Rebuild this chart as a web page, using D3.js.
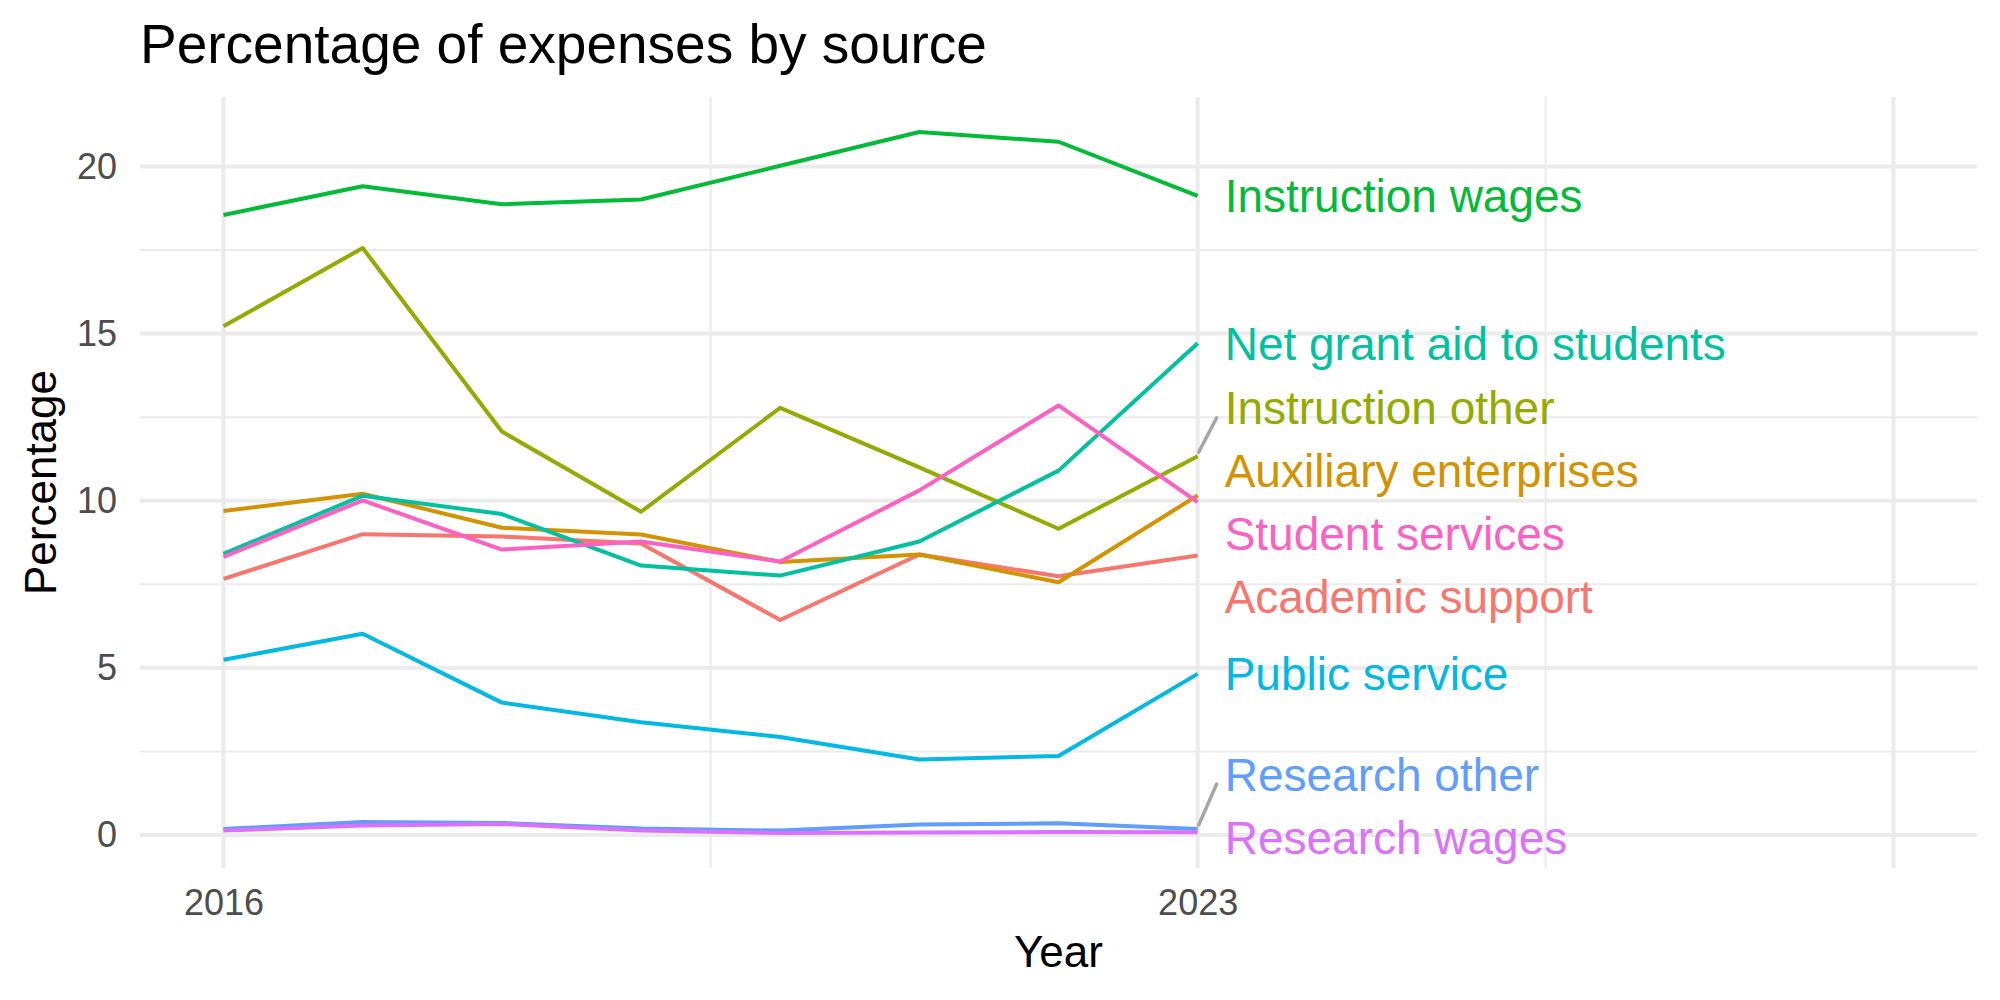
<!DOCTYPE html>
<html>
<head>
<meta charset="utf-8">
<script src="https://cdn.jsdelivr.net/npm/d3@7"></script>
<style>
  body { margin: 0; background: #fff; }
  text { font-family: "Liberation Sans", Arial, Helvetica, sans-serif; }
</style>
</head>
<body>
<script>
// data
var years = [2016, 2017, 2018, 2019, 2020, 2021, 2022, 2023];

var categories = [
    "Academic support",
    "Auxiliary enterprises",
    "Instruction other",
    "Instruction wages",
    "Net grant aid to students",
    "Public service",
    "Research other",
    "Research wages",
    "Student services"
];

var academicSupport = [7.66, 9.00, 8.93, 8.72, 6.43, 8.39, 7.74, 8.36];
var auxiliaryEnterprises = [9.69, 10.21, 9.19, 8.99, 8.17, 8.39, 7.56, 10.16];
var instructionOther = [15.22, 17.56, 12.07, 9.67, 12.78, 11.00, 9.16, 11.33];
var instructionWages = [18.55, 19.41, 18.87, 19.01, 20.02, 21.03, 20.74, 19.12];
var netGrantAid = [8.41, 10.15, 9.60, 8.06, 7.76, 8.78, 10.90, 14.71];
var publicService = [5.24, 6.02, 3.96, 3.37, 2.93, 2.26, 2.36, 4.82];
var researchOther = [0.18, 0.39, 0.36, 0.19, 0.13, 0.31, 0.35, 0.18];
var researchWages = [0.13, 0.28, 0.33, 0.13, 0.06, 0.07, 0.09, 0.08];
var studentServices = [8.32, 10.01, 8.54, 8.78, 8.18, 10.31, 12.85, 9.96];

var seriesValues = [academicSupport, auxiliaryEnterprises, instructionOther, instructionWages,
    netGrantAid, publicService, researchOther, researchWages, studentServices];

// ggplot hue palette
var colors = ["#F8766D", "#D39200", "#93AA00", "#00BA38", "#00C19F",
    "#00B9E3", "#619CFF", "#DB72FB", "#FF61C3"];

var xLimits = [2016, 2028];
var xBreaks = [2016, 2023, 2028];
var xBreakLabels = ["2016", "2023", ""];
var xMinorBreaks = [2019.5, 2025.5];
var yBreaks = [0, 5, 10, 15, 20];
var yMinorBreaks = [2.5, 7.5, 12.5, 17.5];

var svgWidth = 2000;
var svgHeight = 1000;

var margin = {
    top: 97,
    right: 23,
    bottom: 132,
    left: 140
};

var width = svgWidth - margin.left - margin.right;
var height = svgHeight - margin.top - margin.bottom;

var svg = d3.select("body")
    .append("svg")
    .attr("width", svgWidth)
    .attr("height", svgHeight);

var chartGroup = svg.append("g")
    .attr("transform", `translate(${margin.left}, ${margin.top})`);

// build long table
var series = categories.map(function (name, i) {
    return {
        name: name,
        values: years.map(function (yr, j) {
            return { year: yr, value: seriesValues[i][j] };
        })
    };
});

var allValues = d3.merge(seriesValues);
var yExtent = d3.extent(allValues);
var yPad = (yExtent[1] - yExtent[0]) * 0.05;
var xPad = (xLimits[1] - xLimits[0]) * 0.05;

var xLinearScale = d3.scaleLinear()
    .domain([xLimits[0] - xPad, xLimits[1] + xPad])
    .range([0, width]);

var yLinearScale = d3.scaleLinear()
    .domain([yExtent[0] - yPad, yExtent[1] + yPad])
    .range([height, 0]);

var colorScale = d3.scaleOrdinal().domain(categories).range(colors);

// grid lines
var grid = chartGroup.append("g").attr("class", "grid");

grid.selectAll(".ymin")
    .data(yMinorBreaks)
    .enter()
    .append("line")
    .attr("x1", 0).attr("x2", width)
    .attr("y1", d => yLinearScale(d)).attr("y2", d => yLinearScale(d))
    .attr("stroke", "#EBEBEB").attr("stroke-width", 2);

grid.selectAll(".xmin")
    .data(xMinorBreaks)
    .enter()
    .append("line")
    .attr("y1", 0).attr("y2", height)
    .attr("x1", d => xLinearScale(d)).attr("x2", d => xLinearScale(d))
    .attr("stroke", "#EBEBEB").attr("stroke-width", 2);

grid.selectAll(".ymaj")
    .data(yBreaks)
    .enter()
    .append("line")
    .attr("x1", 0).attr("x2", width)
    .attr("y1", d => yLinearScale(d)).attr("y2", d => yLinearScale(d))
    .attr("stroke", "#EBEBEB").attr("stroke-width", 4);

grid.selectAll(".xmaj")
    .data(xBreaks)
    .enter()
    .append("line")
    .attr("y1", 0).attr("y2", height)
    .attr("x1", d => xLinearScale(d)).attr("x2", d => xLinearScale(d))
    .attr("stroke", "#EBEBEB").attr("stroke-width", 4);

// axes
var bottomAxis = d3.axisBottom(xLinearScale)
    .tickValues(xBreaks)
    .tickFormat((d, i) => xBreakLabels[i])
    .tickSize(0)
    .tickPadding(21);

var leftAxis = d3.axisLeft(yLinearScale)
    .tickValues(yBreaks)
    .tickFormat(d3.format("d"))
    .tickSize(0)
    .tickPadding(23);

var xAxis = chartGroup.append("g")
    .attr("transform", `translate(0, ${height})`)
    .call(bottomAxis);

var yAxis = chartGroup.append("g")
    .call(leftAxis);

[xAxis, yAxis].forEach(function (ax) {
    ax.select(".domain").remove();
    ax.selectAll("text")
        .style("font-family", "'Liberation Sans', Arial, sans-serif")
        .style("font-size", "36px")
        .attr("fill", "#4D4D4D");
});

// lines
var line = d3.line()
    .x(d => xLinearScale(d.year))
    .y(d => yLinearScale(d.value));

chartGroup.selectAll(".series")
    .data(series)
    .enter()
    .append("path")
    .attr("class", "series")
    .attr("d", d => line(d.values))
    .attr("fill", "none")
    .attr("stroke", d => colorScale(d.name))
    .attr("stroke-width", 4)
    .attr("stroke-linejoin", "round");

// direct labels, spread apart vertically like ggrepel
var lastYear = years[years.length - 1];
var labelGap = 63;
var labelX = xLinearScale(lastYear) + 31;

var labels = series.map(function (s) {
    var v = s.values[s.values.length - 1].value;
    return { name: s.name, target: yLinearScale(v), y: yLinearScale(v) };
}).sort((a, b) => a.target - b.target);

function spreadLabels(items, gap, minY, maxY) {
    var groups = items.map(function (it) { return [it]; });
    function place(g) {
        var top = d3.mean(g, (it, k) => it.target - k * gap);
        top = Math.max(minY, Math.min(maxY - (g.length - 1) * gap, top));
        g.forEach(function (it, k) { it.y = top + k * gap; });
    }
    groups.forEach(place);
    var changed = true;
    while (changed) {
        changed = false;
        for (var i = 0; i < groups.length - 1; i++) {
            var a = groups[i], b = groups[i + 1];
            if (b[0].y < a[a.length - 1].y + gap) {
                var g = a.concat(b);
                groups.splice(i, 2, g);
                place(g);
                changed = true;
                break;
            }
        }
    }
}

spreadLabels(labels, labelGap, 20, height - 31);

// leader segments for labels that moved far
labels.forEach(function (lb) {
    var px = xLinearScale(lastYear);
    var ex = labelX - 12;
    var ey = lb.y < lb.target ? lb.y + 10 : lb.y - 10;
    var len = Math.hypot(ex - px, ey - lb.target);
    if (len > 40) {
        chartGroup.append("line")
            .attr("x1", px + 1).attr("y1", lb.target - 4)
            .attr("x2", ex).attr("y2", ey)
            .attr("stroke", "#A6A6A6")
            .attr("stroke-width", 3.5)
            .attr("stroke-linecap", "round");
    }
});

chartGroup.selectAll(".label")
    .data(labels)
    .enter()
    .append("text")
    .attr("class", "label")
    .attr("x", labelX - 4)
    .attr("y", d => d.y)
    .attr("dy", "0.36em")
    .style("font-size", "46px")
    .attr("fill", d => colorScale(d.name))
    .text(d => d.name);

// titles
svg.append("text")
    .attr("x", 140)
    .attr("y", 63)
    .style("font-size", "55px")
    .attr("fill", "#000")
    .text("Percentage of expenses by source");

svg.append("text")
    .attr("x", margin.left + width / 2)
    .attr("y", 967)
    .attr("text-anchor", "middle")
    .style("font-size", "44px")
    .attr("fill", "#000")
    .text("Year");

svg.append("text")
    .attr("transform", `translate(56, ${margin.top + height / 2}) rotate(-90)`)
    .attr("text-anchor", "middle")
    .style("font-size", "44px")
    .attr("fill", "#000")
    .text("Percentage");
</script>
</body>
</html>
